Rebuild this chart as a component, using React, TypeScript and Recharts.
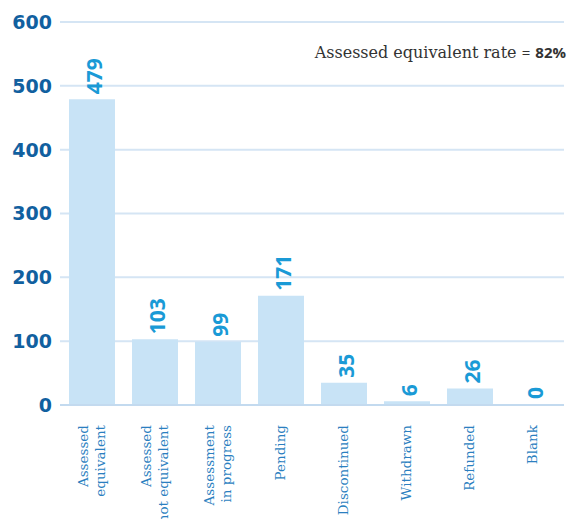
import React from 'react';
import { BarChart, Bar, XAxis, YAxis, CartesianGrid, LabelList } from 'recharts';

const categories = [
  'Assessed\nequivalent',
  'Assessed\nnot equivalent',
  'Assessment\nin progress',
  'Pending',
  'Discontinued',
  'Withdrawn',
  'Refunded',
  'Blank',
];
const counts = [479, 103, 99, 171, 35, 6, 26, 0];
const yTicks = [0, 100, 200, 300, 400, 500, 600];
const rateText = 'Assessed equivalent rate';
const rateValue = '82%';

const data = categories.map((name, i) => ({ name, count: counts[i] }));

const CategoryTick = (props: any) => {
  const { x, y, payload } = props;
  const lines = String(payload.value).split('\n');
  const lh = 17;
  return (
    <g transform={`translate(${x},${y + 18}) rotate(-90)`}>
      {lines.map((line, i) => (
        <text
          key={i}
          x={0}
          y={(i - (lines.length - 1) / 2) * lh}
          dy="0.35em"
          textAnchor="end"
          fill="#2b7fc0"
          fontSize={13.5}
          fontFamily="'DejaVu Serif', serif"
        >
          {line}
        </text>
      ))}
    </g>
  );
};

const ValueTick = (props: any) => {
  const { y, payload } = props;
  return (
    <text
      x={52}
      y={y}
      dy="0.36em"
      textAnchor="end"
      fill="#11609f"
      fontSize={19}
      fontWeight="bold"
      fontFamily="'DejaVu Sans', sans-serif"
    >
      {payload.value}
    </text>
  );
};

const BarValue = (props: any) => {
  const { x, y, width, value } = props;
  const cx = x + width / 2 + 2;
  return (
    <text
      transform={`translate(${cx},${y - 5}) rotate(-90)`}
      textAnchor="start"
      dominantBaseline="central"
      fill="#1a9ad6"
      fontSize={21}
      fontWeight="bold"
      fontFamily="'Open Sans', sans-serif"
    >
      {value}
    </text>
  );
};

export default function App() {
  return (
    <div style={{ position: 'absolute', left: 0, top: 0, width: 568, height: 519 }}>
      <BarChart
        width={568}
        height={519}
        data={data}
        margin={{ top: 22, right: 4, left: 0, bottom: 0 }}
      >
        <CartesianGrid vertical={false} stroke="#d5e5f4" strokeWidth={2} />
        <XAxis
          dataKey="name"
          interval={0}
          height={114}
          tickSize={0}
          tickLine={false}
          axisLine={{ stroke: '#c3daef', strokeWidth: 2 }}
          tick={<CategoryTick />}
        />
        <YAxis
          width={60}
          domain={[0, 600]}
          ticks={yTicks}
          axisLine={false}
          tickLine={false}
          tick={<ValueTick />}
        />
        <Bar dataKey="count" fill="#c8e3f6" barSize={46} minPointSize={1} isAnimationActive={false}>
          <LabelList dataKey="count" content={<BarValue />} />
        </Bar>
      </BarChart>
      <div
        style={{
          position: 'absolute',
          right: 2,
          top: 42,
          fontFamily: "'DejaVu Serif', serif",
          fontSize: 16,
          color: '#333',
          whiteSpace: 'nowrap',
        }}
      >
        {rateText}{' '}
        <span style={{ fontFamily: "'Open Sans', sans-serif", fontSize: 15 }}>=</span>{' '}
        <span style={{ fontFamily: "'Open Sans', sans-serif", fontWeight: 'bold', fontSize: 15 }}>
          {rateValue}
        </span>
      </div>
    </div>
  );
}
